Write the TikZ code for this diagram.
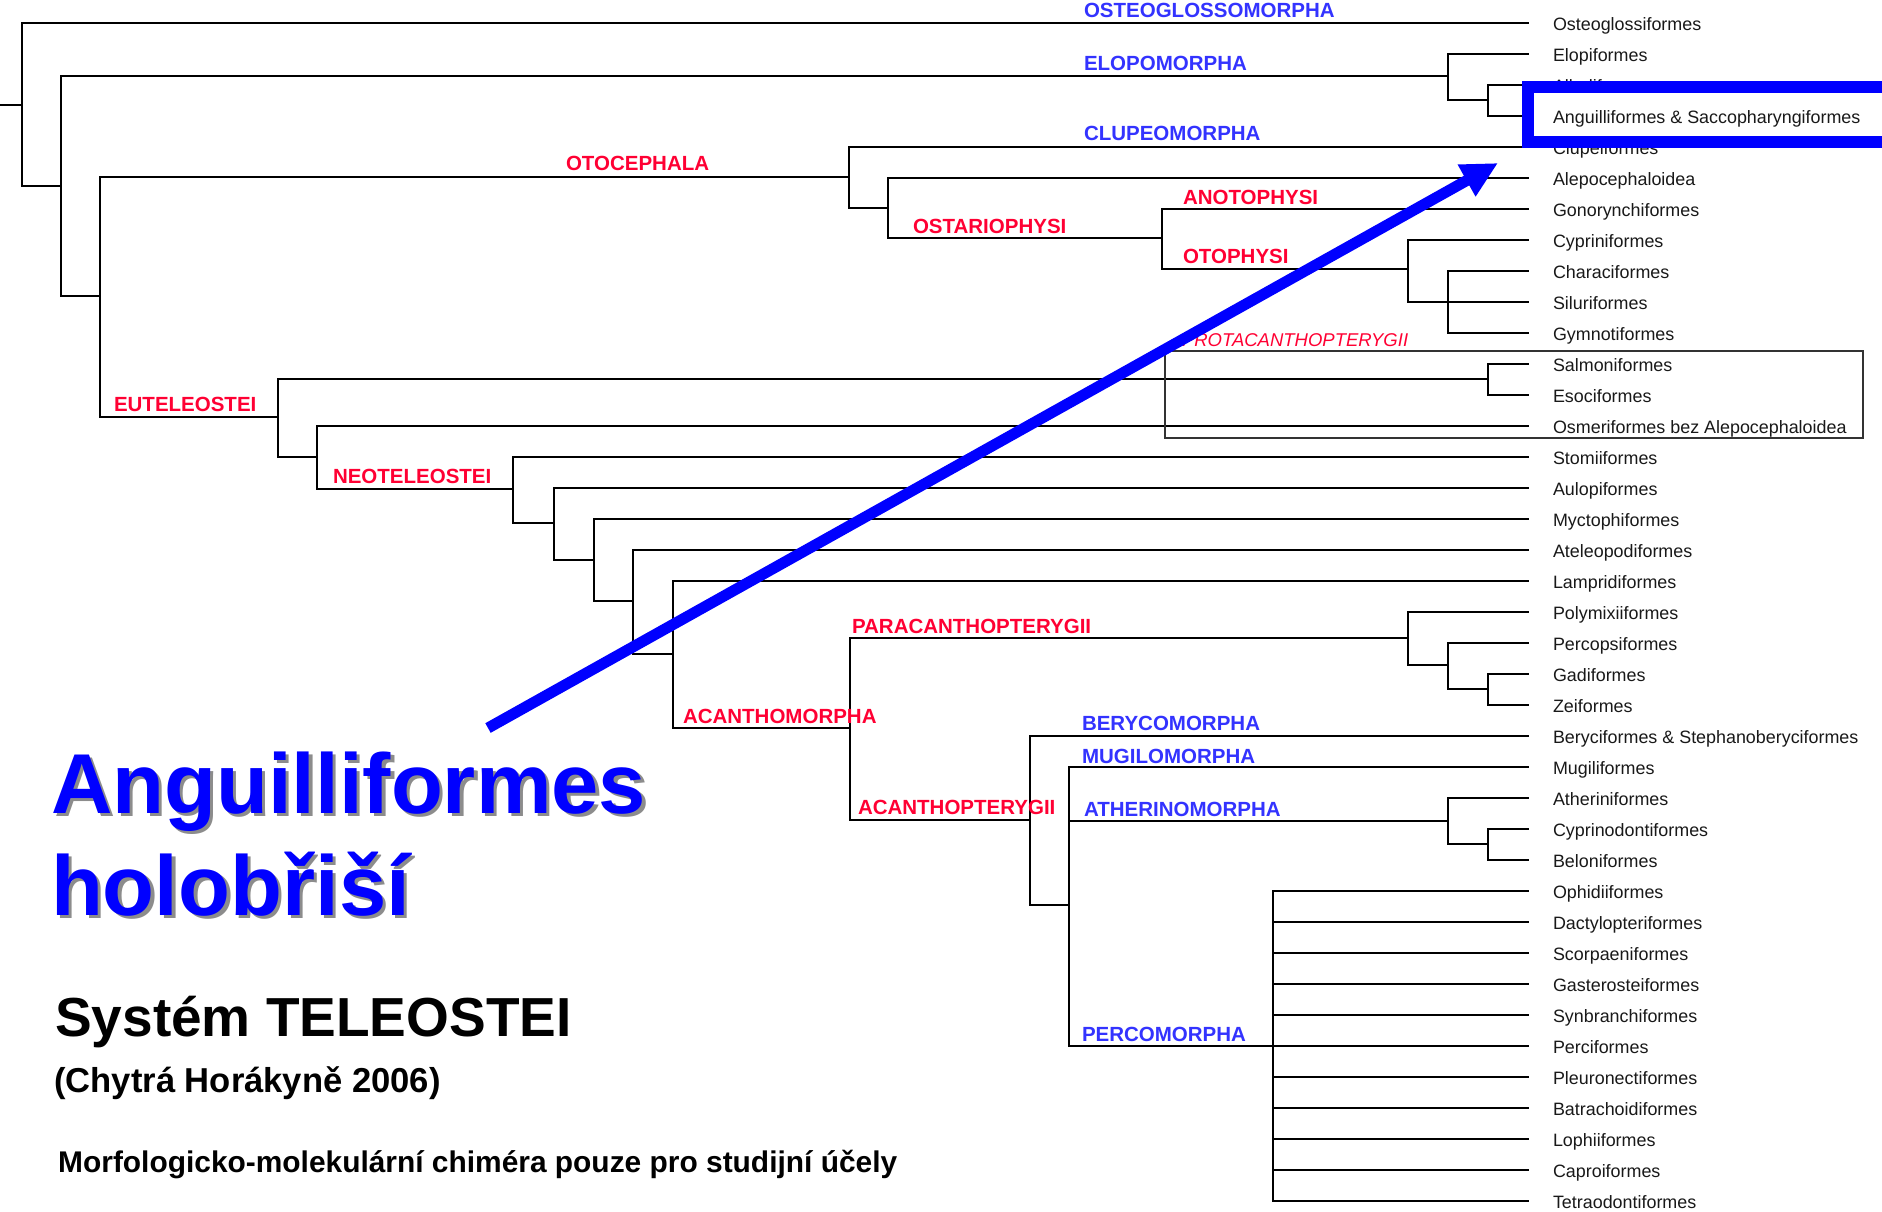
\documentclass[tikz,border=0pt]{standalone}
\usepackage{fontspec}
\setmainfont{Liberation Sans}
\usetikzlibrary{arrows.meta}
\definecolor{cladered}{RGB}{255,0,51}
\definecolor{cladeblue}{RGB}{51,51,255}
\definecolor{hiblue}{RGB}{0,0,255}
\begin{document}
\begin{tikzpicture}[x=1pt,y=-1pt,
  br/.style={line width=2.9pt, line join=miter, black},
  leaf/.style={anchor=base west, inner sep=0pt, outer sep=0pt, font=\fontsize{17.9}{20}\selectfont, text=black!90},
  redlab/.style={anchor=base west, inner sep=0pt, outer sep=0pt, font=\bfseries\fontsize{20.5}{22}\selectfont, text=cladered},
  bluelab/.style={anchor=base west, inner sep=0pt, outer sep=0pt, font=\bfseries\fontsize{20.5}{22}\selectfont, text=cladeblue},
  italab/.style={anchor=base west, inner sep=0pt, outer sep=0pt, font=\itshape\fontsize{18.5}{20}\selectfont, text=cladered},
  bigtext/.style={anchor=base west, inner sep=0pt, outer sep=0pt, font=\bfseries\fontsize{85}{90}\selectfont},
  groupbox/.style={line width=1.3pt, black!80},
  hilite/.style={hiblue, line width=12pt, line join=miter},
  pointer/.style={hiblue, line width=11pt, -{Triangle[length=36pt,width=34pt]}}
]
\useasboundingbox[fill=white] (0,0) rectangle (1882,1211);

% leaves
\foreach \t [count=\i from 0] in {Osteoglossiformes,Elopiformes,Albuliformes,Anguilliformes \& Saccopharyngiformes,Clupeiformes,Alepocephaloidea,Gonorynchiformes,Cypriniformes,Characiformes,Siluriformes,Gymnotiformes,Salmoniformes,Esociformes,Osmeriformes bez Alepocephaloidea,Stomiiformes,Aulopiformes,Myctophiformes,Ateleopodiformes,Lampridiformes,Polymixiiformes,Percopsiformes,Gadiformes,Zeiformes,Beryciformes \& Stephanoberyciformes,Mugiliformes,Atheriniformes,Cyprinodontiformes,Beloniformes,Ophidiiformes,Dactylopteriformes,Scorpaeniformes,Gasterosteiformes,Synbranchiformes,Perciformes,Pleuronectiformes,Batrachoidiformes,Lophiiformes,Caproiformes,Tetraodontiformes}{
  \coordinate (e\i) at (1529,{23+31*\i});
  \node[leaf] (t\i) at (1553,{30+31*\i}) {\t};
}

% internal nodes
\coordinate (r0) at (0,105);
\coordinate (R) at (22,105);
\coordinate (A) at (61,186);
\coordinate (B) at (100,296);
\coordinate (E1) at (1448,76);
\coordinate (E2) at (1488,100);
\coordinate (O) at (849,177);
\coordinate (OS) at (888,208);
\coordinate (AO) at (1162,238);
\coordinate (OP) at (1408,269);
\coordinate (CH) at (1448,302);
\coordinate (EU) at (278,417);
\coordinate (SE) at (1488,379);
\coordinate (PR) at (317,457);
\coordinate (NE) at (513,489);
\coordinate (N2) at (554,523);
\coordinate (N3) at (594,560);
\coordinate (N4) at (633,601);
\coordinate (N5) at (673,654);
\coordinate (AC) at (850,728);
\coordinate (PA) at (1408,638);
\coordinate (P2) at (1448,665);
\coordinate (P3) at (1488,689);
\coordinate (AT) at (1030,820);
\coordinate (MG) at (1069,905);
\coordinate (ATH) at (1448,821);
\coordinate (A2) at (1488,844);
\coordinate (PC) at (1273,1046);

% branches
\draw[br] (r0) -- (R);
\draw[br] (R) |- (e0);  \draw[br] (R) |- (A);
\draw[br] (A) |- (E1);  \draw[br] (A) |- (B);
\draw[br] (E1) |- (e1); \draw[br] (E1) |- (E2);
\draw[br] (E2) |- (e2); \draw[br] (E2) |- (e3);
\draw[br] (B) |- (O);   \draw[br] (B) |- (EU);
\draw[br] (O) |- (e4);  \draw[br] (O) |- (OS);
\draw[br] (OS) |- (e5); \draw[br] (OS) |- (AO);
\draw[br] (AO) |- (e6); \draw[br] (AO) |- (OP);
\draw[br] (OP) |- (e7); \draw[br] (OP) |- (CH);
\foreach \k in {8,9,10} {\draw[br] (CH) |- (e\k);}
\draw[br] (EU) |- (SE); \draw[br] (EU) |- (PR);
\draw[br] (SE) |- (e11); \draw[br] (SE) |- (e12);
\draw[br] (PR) |- (e13); \draw[br] (PR) |- (NE);
\draw[br] (NE) |- (e14); \draw[br] (NE) |- (N2);
\draw[br] (N2) |- (e15); \draw[br] (N2) |- (N3);
\draw[br] (N3) |- (e16); \draw[br] (N3) |- (N4);
\draw[br] (N4) |- (e17); \draw[br] (N4) |- (N5);
\draw[br] (N5) |- (e18); \draw[br] (N5) |- (AC);
\draw[br] (AC) |- (PA); \draw[br] (AC) |- (AT);
\draw[br] (PA) |- (e19); \draw[br] (PA) |- (P2);
\draw[br] (P2) |- (e20); \draw[br] (P2) |- (P3);
\draw[br] (P3) |- (e21); \draw[br] (P3) |- (e22);
\draw[br] (AT) |- (e23); \draw[br] (AT) |- (MG);
\draw[br] (MG) |- (e24); \draw[br] (MG) |- (ATH); \draw[br] (MG) |- (PC);
\draw[br] (ATH) |- (e25); \draw[br] (ATH) |- (A2);
\draw[br] (A2) |- (e26); \draw[br] (A2) |- (e27);
\foreach \k in {28,...,38} {\draw[br] (PC) |- (e\k);}

% Protacanthopterygii group box
\coordinate (pb1) at (1165,351);
\coordinate (pb2) at (1863,438);
\draw[groupbox] (pb1) rectangle (pb2);

% clade labels
\node[bluelab] (lOsteo) at (1084,17.3) {OSTEOGLOSSOMORPHA};
\node[bluelab] (lElo) at (1084,70) {ELOPOMORPHA};
\node[bluelab] (lClu) at (1084,140.7) {CLUPEOMORPHA};
\node[redlab] (lOto) at (566,170.7) {OTOCEPHALA};
\node[redlab] (lAno) at (1183,204) {ANOTOPHYSI};
\node[redlab] (lOst) at (913,233) {OSTARIOPHYSI};
\node[redlab] (lOtp) at (1183,263) {OTOPHYSI};
\node[italab] (lPro) at (1182,346.7) {PROTACANTHOPTERYGII};
\node[redlab] (lEut) at (114,411.7) {EUTELEOSTEI};
\node[redlab] (lNeo) at (333,483) {NEOTELEOSTEI};
\node[redlab] (lPar) at (852,633.3) {PARACANTHOPTERYGII};
\node[redlab] (lAcm) at (683,723) {ACANTHOMORPHA};
\node[bluelab] (lBer) at (1082,730) {BERYCOMORPHA};
\node[bluelab] (lMug) at (1082,763) {MUGILOMORPHA};
\node[redlab] (lAcp) at (858,814) {ACANTHOPTERYGII};
\node[bluelab] (lAth) at (1084,816) {ATHERINOMORPHA};
\node[bluelab] (lPer) at (1082,1041) {PERCOMORPHA};

% pointer arrow and highlight box
\coordinate (atail) at (488,728);
\coordinate (ahead) at (1498,163);
\draw[pointer] (atail) -- (ahead);
\coordinate (hb1) at (1882,86.5);
\coordinate (hb2) at (1528,86.5);
\coordinate (hb3) at (1528,142);
\coordinate (hb4) at (1882,142);
\draw[hilite] (hb1) -- (hb2) -- (hb3) -- (hb4);

% big title with drop shadow
\node[bigtext, text=black, opacity=0.45] (sh1) at (54.5,816.5) {Anguilliformes};
\node[bigtext, text=black, opacity=0.45] (sh2) at (54.5,918.5) {holobřiší};
\node[bigtext, text=hiblue] (big1) at (51,813) {Anguilliformes};
\node[bigtext, text=hiblue] (big2) at (51,915) {holobřiší};

% captions
\node[anchor=base west, inner sep=0pt, font=\bfseries\fontsize{55}{58}\selectfont] (sys) at (55,1036) {Systém TELEOSTEI};
\node[anchor=base west, inner sep=0pt, font=\bfseries\fontsize{34.6}{37}\selectfont] (cite) at (54,1092) {(Chytrá Horákyně 2006)};
\node[anchor=base west, inner sep=0pt, font=\bfseries\fontsize{29.9}{32}\selectfont] (note) at (58,1172) {Morfologicko-molekulární chiméra pouze pro studijní účely};
\end{tikzpicture}
\end{document}
